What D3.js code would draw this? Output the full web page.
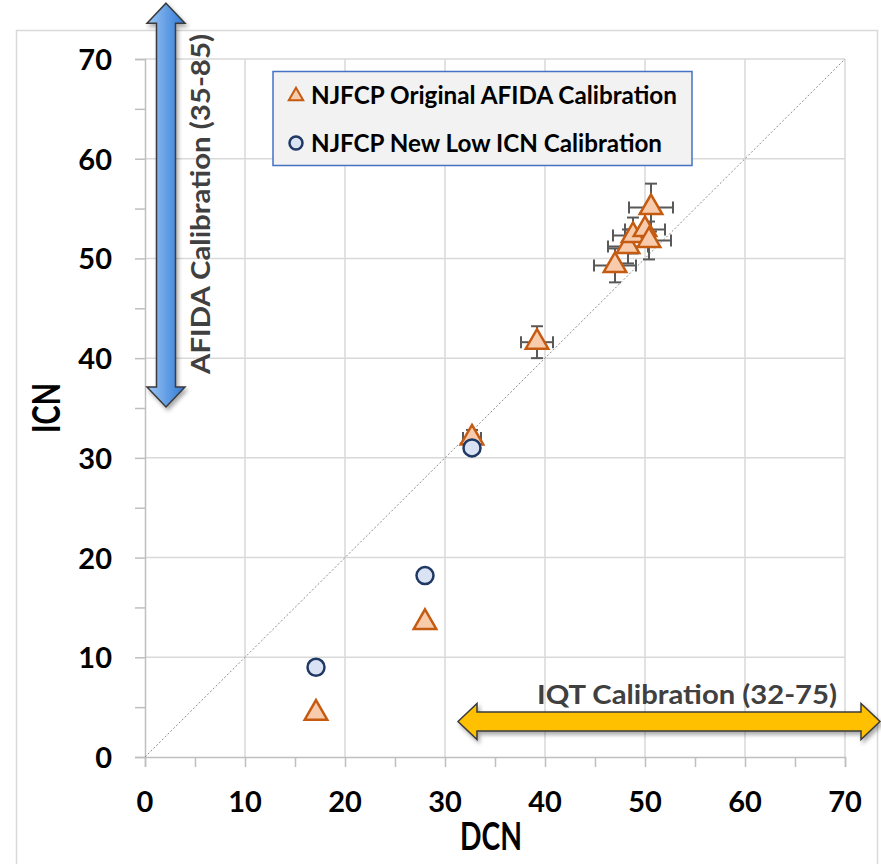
<!DOCTYPE html>
<html>
<head>
<meta charset="utf-8">
<script src="https://cdn.jsdelivr.net/npm/d3@7"></script>
<style>
  body { margin: 0; background: #fff; }
  text { font-family: Lato, "Open Sans", sans-serif; font-weight: bold; }
</style>
</head>
<body>
<script>
// NJFCP Original AFIDA Calibration (triangles, with error bars)
var afidaDCN  = [17.1, 28.0, 32.7, 39.2, 47.0, 48.3, 48.8, 50.0, 50.4, 50.6];
var afidaICN  = [4.4, 13.5, 32.0, 41.6, 49.3, 51.2, 52.3, 52.9, 51.8, 55.1];
var afidaXErr = [0, 0, 0.9, 1.6, 2.1, 2.0, 2.0, 2.0, 2.2, 2.2];
var afidaYErr = [0, 0, 0.8, 1.6, 1.7, 1.7, 1.8, 1.6, 1.9, 2.4];

// NJFCP New Low ICN Calibration (circles)
var lowDCN = [17.1, 28.0, 32.7];
var lowICN = [9.0, 18.2, 31.0];

var ticks = [0, 10, 20, 30, 40, 50, 60, 70];
var minorTicks = [0, 5, 10, 15, 20, 25, 30, 35, 40, 45, 50, 55, 60, 65, 70];
var legendLabels = ["NJFCP Original AFIDA Calibration", "NJFCP New Low ICN Calibration"];

// calibration ranges drawn as arrows (clipped where they leave the chart)
var afidaRange = [35.1, 75.6];
var iqtRange = [31.3, 73.5];

var WIDTH = 881, HEIGHT = 864;
var TRI = "#c55a11", TRI_FILL = "#f8cbad";
var CIR = "#1f3864", CIR_FILL = "#dae3f3";

var x = d3.scaleLinear().domain([0, 70]).range([145, 845]);
var y = d3.scaleLinear().domain([0, 70]).range([757, 59]);

var svg = d3.select("body").append("svg")
  .attr("width", WIDTH).attr("height", HEIGHT);

var defs = svg.append("defs");
defs.append("filter").attr("id", "shadow")
  .attr("x", "-20%").attr("y", "-20%").attr("width", "140%").attr("height", "140%")
  .append("feDropShadow")
  .attr("dx", 2).attr("dy", 3).attr("stdDeviation", 2)
  .attr("flood-color", "#000").attr("flood-opacity", 0.35);
var grad = defs.append("linearGradient").attr("id", "blueGrad")
  .attr("x1", "0%").attr("x2", "100%").attr("y1", "0%").attr("y2", "0%");
grad.append("stop").attr("offset", "0%").attr("stop-color", "#9cc7f5");
grad.append("stop").attr("offset", "100%").attr("stop-color", "#2f78d6");

// outer chart frame
svg.append("rect")
  .attr("x", 16.5).attr("y", 30.5).attr("width", 861).attr("height", 860)
  .attr("fill", "none").attr("stroke", "#d9d9d9").attr("stroke-width", 1.5);

// gridlines
svg.append("g").selectAll("line.v").data(ticks.slice(1)).enter().append("line")
  .attr("x1", d => x(d)).attr("x2", d => x(d)).attr("y1", y(0)).attr("y2", y(70))
  .attr("stroke", "#d9d9d9").attr("stroke-width", 1.5);
svg.append("g").selectAll("line.h").data(ticks.slice(1)).enter().append("line")
  .attr("x1", x(0)).attr("x2", x(70)).attr("y1", d => y(d)).attr("y2", d => y(d))
  .attr("stroke", "#d9d9d9").attr("stroke-width", 1.5);

// axes
var xAxis = svg.append("g").attr("transform", "translate(0," + y(0) + ")")
  .call(d3.axisBottom(x).tickValues(minorTicks).tickSize(10).tickFormat(""));
var yAxis = svg.append("g").attr("transform", "translate(" + x(0) + ",0)")
  .call(d3.axisLeft(y).tickValues(minorTicks).tickSize(10).tickFormat(""));
[xAxis, yAxis].forEach(g => {
  g.selectAll("path, line").attr("stroke", "#bfbfbf").attr("stroke-width", 1.5);
});

svg.append("g").selectAll("text").data(ticks).enter().append("text")
  .attr("x", d => x(d)).attr("y", 812)
  .attr("text-anchor", "middle").attr("font-size", 29).attr("fill", "#000")
  .text(d => d);
svg.append("g").selectAll("text").data(ticks).enter().append("text")
  .attr("x", 112).attr("y", d => y(d) + 11)
  .attr("text-anchor", "end").attr("font-size", 29).attr("fill", "#000")
  .text(d => d);

// axis titles
svg.append("text").attr("x", 491).attr("y", 850)
  .attr("text-anchor", "middle").attr("font-size", 38).attr("font-weight", 900)
  .attr("textLength", 62).attr("lengthAdjust", "spacingAndGlyphs")
  .text("DCN");
svg.append("text").attr("transform", "translate(60,408) rotate(-90)")
  .attr("text-anchor", "middle").attr("font-size", 38).attr("font-weight", 900)
  .attr("textLength", 50).attr("lengthAdjust", "spacingAndGlyphs")
  .text("ICN");

// 1:1 line
svg.append("line")
  .attr("x1", x(0)).attr("y1", y(0)).attr("x2", x(70)).attr("y2", y(70))
  .attr("stroke", "#8c8c8c").attr("stroke-width", 1).attr("stroke-dasharray", "2,2");

// arrows
var hArrow = function(x0, x1, cy, sh, hh, hl) {
  return "M" + [[x0, cy], [x0 + hl, cy - hh], [x0 + hl, cy - sh], [x1 - hl, cy - sh],
    [x1 - hl, cy - hh], [x1, cy], [x1 - hl, cy + hh], [x1 - hl, cy + sh],
    [x0 + hl, cy + sh], [x0 + hl, cy + hh]].join("L") + "Z";
};
var vArrow = function(y0, y1, cx, sw, hw, hl) {
  return "M" + [[cx, y0], [cx + hw, y0 + hl], [cx + sw, y0 + hl], [cx + sw, y1 - hl],
    [cx + hw, y1 - hl], [cx, y1], [cx - hw, y1 - hl], [cx - sw, y1 - hl],
    [cx - sw, y0 + hl], [cx - hw, y0 + hl]].join("L") + "Z";
};

svg.append("path")
  .attr("d", vArrow(y(afidaRange[1]), y(afidaRange[0]), 166, 9.5, 19, 20))
  .attr("fill", "url(#blueGrad)").attr("stroke", "#3a3a3a").attr("stroke-width", 1.5)
  .attr("filter", "url(#shadow)");
svg.append("text").attr("transform", "translate(210,204) rotate(-90)")
  .attr("text-anchor", "middle").attr("font-size", 26).attr("fill", "#404040")
  .attr("textLength", 340).attr("lengthAdjust", "spacingAndGlyphs")
  .text("AFIDA Calibration (35-85)");

svg.append("path")
  .attr("d", hArrow(x(iqtRange[0]), x(iqtRange[1]), 721.5, 9.5, 18, 19))
  .attr("fill", "#ffc000").attr("stroke", "#3a3a3a").attr("stroke-width", 1.5)
  .attr("filter", "url(#shadow)");
svg.append("text").attr("x", 837).attr("y", 704)
  .attr("text-anchor", "end").attr("font-size", 26).attr("fill", "#404040")
  .attr("textLength", 300).attr("lengthAdjust", "spacingAndGlyphs")
  .text("IQT Calibration (32-75)");

// legend
var legend = svg.append("g");
legend.append("rect").attr("x", 273).attr("y", 71.5).attr("width", 419).attr("height", 94)
  .attr("fill", "#f2f2f2").attr("stroke", "#4472c4").attr("stroke-width", 1.5);
legend.append("path")
  .attr("d", d3.symbol(d3.symbolTriangle, 90)())
  .attr("transform", "translate(296,96)")
  .attr("fill", TRI_FILL).attr("stroke", TRI).attr("stroke-width", 2);
legend.append("circle").attr("cx", 296).attr("cy", 143).attr("r", 6.5)
  .attr("fill", CIR_FILL).attr("stroke", CIR).attr("stroke-width", 2.5);
legend.selectAll("text").data(legendLabels).enter().append("text")
  .attr("x", 311).attr("y", (d, i) => 104 + i * 48)
  .attr("font-size", 25).attr("fill", "#000")
  .attr("textLength", (d, i) => i === 0 ? 366 : 351).attr("lengthAdjust", "spacingAndGlyphs")
  .text(d => d);

// error bars
var afida = afidaDCN.map((d, i) => ({
  x: d, y: afidaICN[i], xe: afidaXErr[i], ye: afidaYErr[i]
}));
var low = lowDCN.map((d, i) => ({ x: d, y: lowICN[i] }));

var ebars = svg.append("g").attr("stroke", "#595959").attr("stroke-width", 2)
  .selectAll("g").data(afida.filter(d => d.xe > 0)).enter().append("g");
var CAP = 6;
ebars.append("line")
  .attr("x1", d => x(d.x - d.xe)).attr("x2", d => x(d.x + d.xe))
  .attr("y1", d => y(d.y)).attr("y2", d => y(d.y));
ebars.append("line")
  .attr("x1", d => x(d.x)).attr("x2", d => x(d.x))
  .attr("y1", d => y(d.y - d.ye)).attr("y2", d => y(d.y + d.ye));
[-1, 1].forEach(s => {
  ebars.append("line")
    .attr("x1", d => x(d.x + s * d.xe)).attr("x2", d => x(d.x + s * d.xe))
    .attr("y1", d => y(d.y) - CAP).attr("y2", d => y(d.y) + CAP);
  ebars.append("line")
    .attr("x1", d => x(d.x) - CAP).attr("x2", d => x(d.x) + CAP)
    .attr("y1", d => y(d.y + s * d.ye)).attr("y2", d => y(d.y + s * d.ye));
});

// markers
svg.append("g").selectAll("path").data(afida).enter().append("path")
  .attr("d", d3.symbol(d3.symbolTriangle, 220)())
  .attr("transform", d => "translate(" + x(d.x) + "," + y(d.y) + ")")
  .attr("fill", TRI_FILL).attr("stroke", TRI).attr("stroke-width", 2.5);

svg.append("g").selectAll("circle").data(low).enter().append("circle")
  .attr("cx", d => x(d.x)).attr("cy", d => y(d.y)).attr("r", 8.5)
  .attr("fill", CIR_FILL).attr("stroke", CIR).attr("stroke-width", 2.5);
</script>
</body>
</html>
